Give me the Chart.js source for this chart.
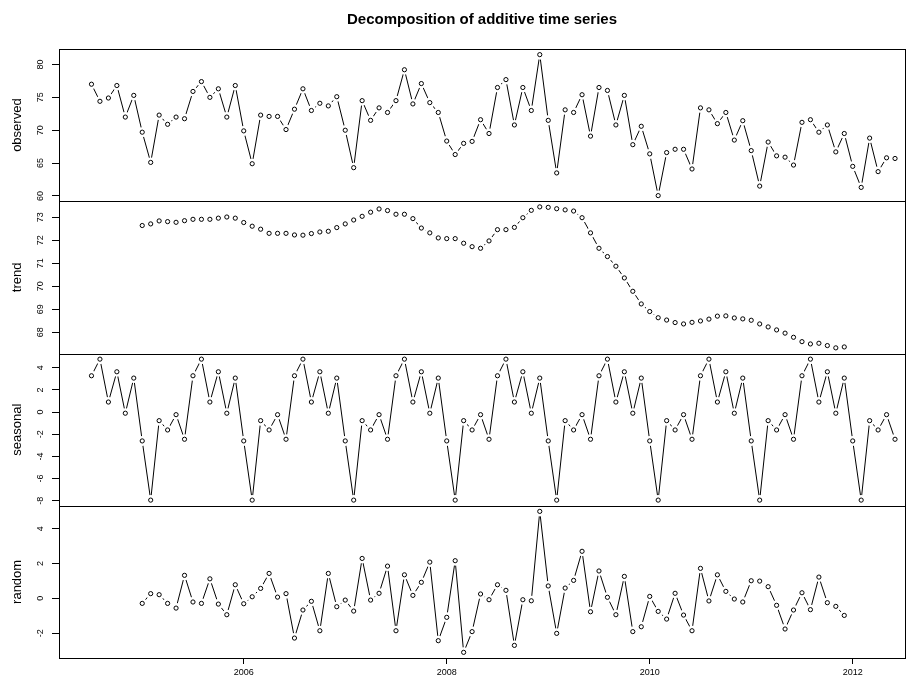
<!DOCTYPE html>
<html>
<head>
<meta charset="utf-8">
<title>Decomposition of additive time series</title>
<script src="https://cdn.jsdelivr.net/npm/chart.js@4.4.1/dist/chart.umd.min.js"></script>
<style>
    html, body { margin: 0; padding: 0; background: #fff; }
    #chart { display: block; }
</style>
</head>
<body>
<canvas id="chart" width="920" height="681"></canvas>
<script>
// monthly series, first value is July 2004
const startYear = 2004.5;
const frequency = 12;

const observed = [
    77.0, 74.4, 74.9, 76.8, 72.0, 75.3, 69.7, 65.1, 72.3, 70.9, 72.0, 71.75,
    75.9, 77.4, 75.0, 76.3, 72.0, 76.8, 69.9, 64.9, 72.3, 72.1, 72.1, 70.1,
    73.2, 76.3, 73.0, 74.1, 73.7, 75.1, 70.0, 64.3, 74.5, 71.5, 73.4, 72.7,
    74.5, 79.2, 74.0, 77.1, 74.2, 72.7, 68.35, 66.3, 68.0, 68.3, 71.6, 69.5,
    76.5, 77.7, 70.8, 76.5, 73.0, 81.5, 71.5, 63.5, 73.1, 72.7, 75.4, 69.1,
    76.5, 76.05, 70.8, 75.3, 67.8, 70.6, 66.4, 60.05, 66.6, 67.1, 67.1, 64.1,
    73.4, 73.1, 71.0, 72.7, 68.5, 71.45, 66.9, 61.5, 68.2, 66.1, 65.9, 64.7,
    71.2, 71.6, 69.7, 70.8, 66.7, 69.5, 64.5, 61.3, 68.8, 63.7, 65.8, 65.7
];

// centred moving average: starts 6 months in, stops 6 months early
const trendOffset = 6;
const trend = [
    72.64, 72.71, 72.84, 72.81, 72.78, 72.85, 72.91, 72.91, 72.91, 72.96, 73.01, 72.96,
    72.77, 72.61, 72.48, 72.30, 72.30, 72.30, 72.23, 72.22, 72.29, 72.36, 72.39, 72.55,
    72.71, 72.88, 73.04, 73.22, 73.36, 73.29, 73.13, 73.13, 72.94, 72.53, 72.32, 72.10,
    72.07, 72.07, 71.87, 71.72, 71.65, 71.97, 72.46, 72.46, 72.56, 72.98, 73.30, 73.45,
    73.43, 73.37, 73.32, 73.27, 72.98, 72.32, 71.65, 71.29, 70.87, 70.36, 69.78, 69.23,
    68.90, 68.63, 68.53, 68.42, 68.36, 68.43, 68.49, 68.57, 68.70, 68.71, 68.62, 68.58,
    68.52, 68.36, 68.23, 68.10, 67.96, 67.78, 67.59, 67.49, 67.52, 67.42, 67.32, 67.36
];

const seasonal = [
    3.28, 4.78, 0.91, 3.64, -0.10, 3.07, -2.60, -7.94, -0.77, -1.61, -0.23, -2.45,
    3.28, 4.78, 0.91, 3.64, -0.10, 3.07, -2.60, -7.94, -0.77, -1.61, -0.23, -2.45,
    3.28, 4.78, 0.91, 3.64, -0.10, 3.07, -2.60, -7.94, -0.77, -1.61, -0.23, -2.45,
    3.28, 4.78, 0.91, 3.64, -0.10, 3.07, -2.60, -7.94, -0.77, -1.61, -0.23, -2.45,
    3.28, 4.78, 0.91, 3.64, -0.10, 3.07, -2.60, -7.94, -0.77, -1.61, -0.23, -2.45,
    3.28, 4.78, 0.91, 3.64, -0.10, 3.07, -2.60, -7.94, -0.77, -1.61, -0.23, -2.45,
    3.28, 4.78, 0.91, 3.64, -0.10, 3.07, -2.60, -7.94, -0.77, -1.61, -0.23, -2.45,
    3.28, 4.78, 0.91, 3.64, -0.10, 3.07, -2.60, -7.94, -0.77, -1.61, -0.23, -2.45
];

const randomOffset = 6;
const random = [
    -0.29, 0.27, 0.21, -0.29, -0.56, 1.32, -0.21, -0.29, 1.12, -0.33, -0.94, 0.78,
    -0.31, 0.09, 0.57, 1.43, 0.07, 0.27, -2.28, -0.67, -0.17, -1.86, 1.43, -0.48,
    -0.10, -0.73, 2.29, -0.10, 0.29, 1.85, -1.86, 1.35, 0.17, 0.92, 2.08, -2.43,
    -1.09, 2.16, -3.10, -1.91, 0.25, -0.08, 0.78, 0.46, -2.70, -0.08, -0.14, 4.99,
    0.71, -2.01, 0.59, 1.03, 2.70, -0.77, 1.57, 0.06, -0.94, 1.26, -1.91, -1.63,
    0.11, -0.75, -1.19, 0.29, -0.96, -1.86, 1.72, -0.15, 1.35, 0.40, -0.04, -0.21,
    1.01, 0.99, 0.67, -0.40, -1.76, -0.67, 0.32, -0.65, 1.22, -0.25, -0.46, -0.98
];

const xTicks = [2006, 2008, 2010, 2012];

const panels = [
    { id: 'yObs',   title: 'observed', values: observed, offset: 0,            ticks: [60, 65, 70, 75, 80] },
    { id: 'yTrend', title: 'trend',    values: trend,    offset: trendOffset,  ticks: [68, 69, 70, 71, 72, 73] },
    { id: 'ySeas',  title: 'seasonal', values: seasonal, offset: 0,            ticks: [-8, -6, -4, -2, 0, 2, 4] },
    { id: 'yRand',  title: 'random',   values: random,   offset: randomOffset, ticks: [-2, 0, 2, 4] }
];

const FONT = '"Liberation Sans", Arial, Helvetica, sans-serif';

function toPoints(values, offset) {
    return values.map((v, i) => ({ x: startYear + (i + offset) / frequency, y: v }));
}

// R pads each axis range by 4% on both sides
function paddedRange(values) {
    const lo = Math.min(...values);
    const hi = Math.max(...values);
    const pad = (hi - lo) * 0.04;
    return { min: lo - pad, max: hi + pad };
}

const datasets = [];
const scales = {
    x: {
        type: 'linear',
        position: 'bottom',
        min: 2004.18,
        max: 2012.515,
        afterBuildTicks: (scale) => {
            scale.ticks = xTicks.map(v => ({ value: v }));
        },
        afterFit: (scale) => {
            scale.height = 23;
        },
        ticks: {
            color: '#000',
            padding: 3,
            font: { family: FONT, size: 9 },
            maxRotation: 0,
            callback: (v) => String(v)
        },
        grid: {
            drawOnChartArea: false,
            drawTicks: true,
            tickLength: 6,
            color: '#000',
            lineWidth: 1
        },
        border: { display: false }
    }
};

panels.forEach((p, idx) => {
    const pts = toPoints(p.values, p.offset);
    const range = paddedRange(p.values);

    // line with white gaps around each point (type "b")
    datasets.push({
        data: pts,
        yAxisID: p.id,
        order: 1,
        borderColor: '#000',
        borderWidth: 1,
        tension: 0,
        pointRadius: 5,
        pointBorderWidth: 0,
        pointBackgroundColor: '#fff',
        pointBorderColor: '#fff'
    });
    // open circles on top
    datasets.push({
        data: pts,
        yAxisID: p.id,
        order: 0,
        showLine: false,
        pointRadius: 2.1,
        pointBorderWidth: 1,
        pointBorderColor: '#000',
        pointBackgroundColor: 'rgba(0,0,0,0)'
    });

    scales[p.id] = {
        type: 'linear',
        position: 'left',
        stack: 'panels',
        stackWeight: 1,
        weight: panels.length - idx,
        min: range.min,
        max: range.max,
        afterBuildTicks: (scale) => {
            scale.ticks = p.ticks.map(v => ({ value: v }));
        },
        afterFit: (scale) => {
            scale.width = 59;
        },
        ticks: { display: false },
        grid: {
            drawOnChartArea: false,
            drawTicks: true,
            tickLength: 7,
            color: '#000',
            lineWidth: 1
        },
        border: { display: false }
    };
});

// boxes, rotated y tick labels and panel names
const panelFrame = {
    id: 'panelFrame',
    afterDraw(chart) {
        const ctx = chart.ctx;
        const area = chart.chartArea;
        ctx.save();
        ctx.strokeStyle = '#000';
        ctx.lineWidth = 1;
        ctx.fillStyle = '#000';

        panels.forEach((p) => {
            const scale = chart.scales[p.id];
            const top = Math.round(scale.top) + 0.5;
            const bottom = Math.round(scale.bottom) + 0.5;
            ctx.strokeRect(Math.round(area.left) + 0.5, top,
                Math.round(area.right) - Math.round(area.left), bottom - top);

            ctx.font = '9px ' + FONT;
            ctx.textAlign = 'center';
            ctx.textBaseline = 'middle';
            p.ticks.forEach((v) => {
                const y = scale.getPixelForValue(v);
                ctx.save();
                ctx.translate(41, y);
                ctx.rotate(-Math.PI / 2);
                ctx.fillText(String(v), 0, 0);
                ctx.restore();
            });

            ctx.font = '13px ' + FONT;
            ctx.save();
            ctx.translate(17.5, (scale.top + scale.bottom) / 2);
            ctx.rotate(-Math.PI / 2);
            ctx.fillText(p.title, 0, 0);
            ctx.restore();
        });
        ctx.restore();
    }
};

new Chart(document.getElementById('chart'), {
    type: 'line',
    data: { datasets: datasets },
    options: {
        responsive: false,
        animation: false,
        layout: {
            padding: { left: 0, right: 15, top: 0, bottom: 0 }
        },
        plugins: {
            legend: { display: false },
            tooltip: { enabled: false },
            title: {
                display: true,
                fullSize: false,
                text: 'Decomposition of additive time series',
                color: '#000',
                font: { family: FONT, size: 15, weight: 'bold', lineHeight: 1.2 },
                padding: { top: 11, bottom: 20 }
            }
        },
        scales: scales
    },
    plugins: [panelFrame]
});
</script>
</body>
</html>
